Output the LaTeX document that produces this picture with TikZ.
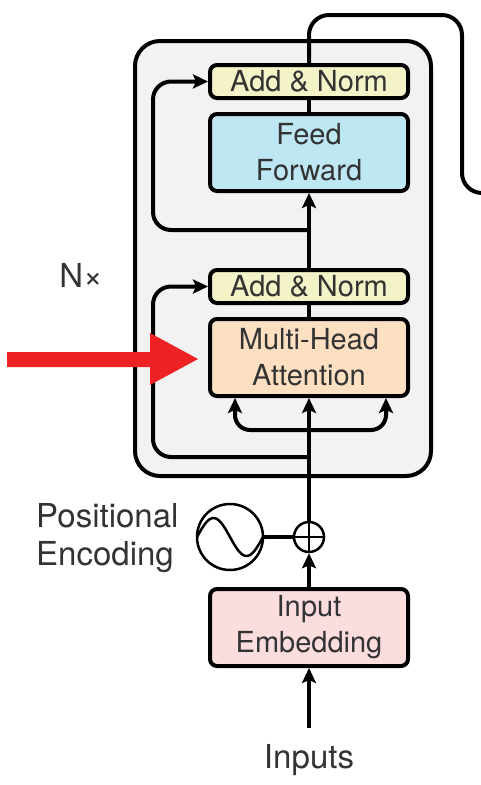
\documentclass[tikz,border=0pt]{standalone}
\usepackage{fontspec}
\setmainfont{TeX Gyre Heros}
\usetikzlibrary{arrows.meta, calc, positioning}
\definecolor{normfill}{HTML}{F3F3C7}
\definecolor{fffill}{HTML}{BDE7F3}
\definecolor{attfill}{HTML}{FDDFC2}
\definecolor{embfill}{HTML}{FBDDDD}
\definecolor{encfill}{HTML}{F2F2F2}
\definecolor{redarrow}{HTML}{EE2222}
\tikzset{
  block/.style={draw, line width=4pt, rounded corners=7pt, inner sep=0pt,
    minimum width=198pt, align=center, text=black!80},
  normblock/.style={block, fill=normfill, minimum height=33pt},
  bigblock/.style={block, minimum height=77pt},
  arr/.style={line width=4pt, -{Stealth[length=15pt, width=14pt, inset=3pt]}},
  wire/.style={line width=4pt},
  lbl/.style={text=black!80, inner sep=0pt, font=\fontsize{33}{38}\selectfont}
}

\begin{document}
\begin{tikzpicture}[x=1pt, y=-1pt, font=\fontsize{29}{36}\selectfont]
\useasboundingbox (0,0) rectangle (481,785);
\node[draw, line width=4pt, fill=encfill, rounded corners=25pt, minimum width=296pt,
  minimum height=435pt, inner sep=0pt] (enc) at (283,258.5) {};
\node[normblock] (an2) at (309,81.5) {Add \& Norm};
\node[bigblock, fill=fffill] (ff) at (309,152.5) {Feed\\Forward};
\node[normblock] (an1) at (309,286.5) {Add \& Norm};
\node[bigblock, fill=attfill] (mha) at (309,357.5) {Multi-Head\\Attention};
\node[bigblock, fill=embfill] (emb) at (309,627.5) {Input\\Embedding};
\node[draw, circle, line width=2.5pt, minimum size=30pt, inner sep=0pt] (plus) at (309,537) {};
\draw[line width=2.5pt] (plus.north) -- (plus.south) (plus.west) -- (plus.east);
\node[draw, circle, line width=2.5pt, minimum size=66pt, inner sep=0pt] (pe) at (230,537) {};
\draw[line width=2.5pt, domain=-1:1, samples=40, variable=\x] plot ({230+33*\x}, {537+19*sin(\x*180)});
\node[lbl, anchor=west, align=left] (petext) at (36,538) {Positional\\Encoding};
\node[lbl] (nx) at (81,275) {N×};
\node[lbl] (inputs) at (309,760) {Inputs};
\coordinate (inbot) at (309,728);
\coordinate (split) at (309,430);
\coordinate (res1) at (309,457);
\coordinate (res2) at (309,230);
\coordinate (out) at (490,193);
\draw[arr] (inbot) -- (emb.south);
\draw[arr] (emb.north) -- (plus.south);
\draw[wire] (pe.east) -- (plus.west);
\draw[arr] (plus.north) -- (mha.south);
\draw[arr, rounded corners=15pt] (split) -| ($(mha.south west)+(27,0)$);
\draw[arr, rounded corners=15pt] (split) -| ($(mha.south east)+(-24,0)$);
\draw[arr, rounded corners=18pt] (res1) -| ($(an1.west)+(-55,0)$) -- (an1.west);
\draw[wire] (mha.north) -- (an1.south);
\draw[arr] (an1.north) -- (ff.south);
\draw[arr, rounded corners=18pt] (res2) -| ($(an2.west)+(-55,0)$) -- (an2.west);
\draw[wire] (ff.north) -- (an2.south);
\draw[wire, rounded corners=20pt] (an2.north) -- ++(0,-48) -| (462,193) -- (out);
\fill[redarrow] (7,352) -- (150,352) -- (150,333) -- (198,359) -- (150,385) -- (150,367) -- (7,367) -- cycle;
\end{tikzpicture}
\end{document}
